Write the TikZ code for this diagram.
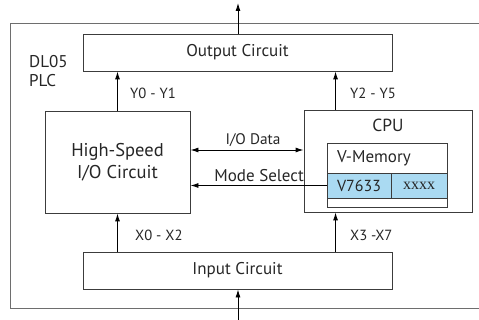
\documentclass[tikz,border=0pt]{standalone}
\usepackage{fontspec}
\setmainfont{PT Sans}
\newfontfamily\serifx{Liberation Serif}
\usetikzlibrary{arrows.meta}
\definecolor{frame}{RGB}{110,110,110}
\definecolor{boxline}{RGB}{60,60,60}
\definecolor{memblue}{RGB}{170,218,242}
\newcommand{\fsz}[1]{\fontsize{#1}{#1}\selectfont}
\tikzset{
  blk/.style={draw=boxline, line width=0.9pt, rectangle, inner sep=0pt, align=center},
  arr/.style={-{Latex[length=8pt,width=5pt]}, line width=0.9pt, black},
  darr/.style={{Latex[length=8pt,width=5pt]}-{Latex[length=8pt,width=5pt]}, line width=0.9pt, black},
  txt/.style={text=black!85, inner sep=0pt},
}
\begin{document}
\begin{tikzpicture}[x=1pt,y=-1pt]
\useasboundingbox (0,0) rectangle (479,320);
% outer frame
\draw[frame, line width=1pt] (481,24) -- (10,24) -- (10,308) -- (481,308);
\node[txt, anchor=west, align=left, font=\fsz{17}] (plc) at (29,71.5) {DL05\\[2pt]PLC};
% blocks
\node[blk, minimum width=309pt, minimum height=37pt, txt, font=\fsz{17}] (out) at (237.5,52.5) {Output Circuit};
\node[blk, minimum width=309pt, minimum height=37pt, txt, font=\fsz{17}] (in) at (237.5,270.5) {Input Circuit};
\node[blk, minimum width=145pt, minimum height=102pt, txt, font=\fsz{18.5}] (hs) at (117.5,162) {High-Speed\\[3pt]I/O Circuit};
\node[blk, minimum width=168pt, minimum height=102pt] (cpu) at (388,161) {};
\node[txt, font=\fsz{17.5}] (cputxt) at (388,125) {CPU};
\node[blk, minimum width=120pt, minimum height=64pt] (vmem) at (387,175) {};
\node[txt, anchor=west, font=\fsz{17}] (vmtxt) at (337,158) {V-Memory};
\node[blk, fill=memblue, minimum width=64pt, minimum height=25pt, txt, font=\fsz{16}] (v7633) at (359,185.5) {V7633};
\node[blk, fill=memblue, minimum width=56pt, minimum height=25pt, txt, font=\serifx\fsz{16}] (xxxx) at (419,185.5) {xxxx};
% external arrows
\coordinate (topend) at (238,3);
\coordinate (botstart) at (238,320);
\draw[arr] (out.north -| topend) -- (topend);
\draw[arr] (botstart) -- (in.south -| botstart);
% internal arrows
\draw[arr] (hs.north) -- (hs.north |- out.south);
\node[txt, anchor=west, font=\fsz{14.7}] (y01) at (130,93) {Y0 - Y1};
\coordinate (cx) at ([xshift=32pt]cpu.north west);
\draw[arr] (cx) -- (cx |- out.south);
\node[txt, anchor=west, font=\fsz{14.7}] (y25) at (350,93) {Y2 - Y5};
\draw[arr] (in.north -| hs.south) -- (hs.south);
\node[txt, anchor=west, font=\fsz{14.7}] (x02) at (135,235) {X0 - X2};
\coordinate (cxb) at ([xshift=32pt]cpu.south west);
\draw[arr] (in.north -| cxb) -- (cxb);
\node[txt, anchor=west, font=\fsz{14.7}] (x37) at (350,235) {X3 -X7};
\coordinate (iol) at ([yshift=11pt]cpu.west);
\draw[darr] (iol -| hs.east) -- (iol);
\node[txt, anchor=south, font=\fsz{15.3}] (iotxt) at (253,147) {I/O Data};
\draw[arr] (v7633.west) -- (v7633.west -| hs.east);
\node[txt, anchor=south east, font=\fsz{17}] (modetxt) at (304,182) {Mode Select};
\end{tikzpicture}
\end{document}
